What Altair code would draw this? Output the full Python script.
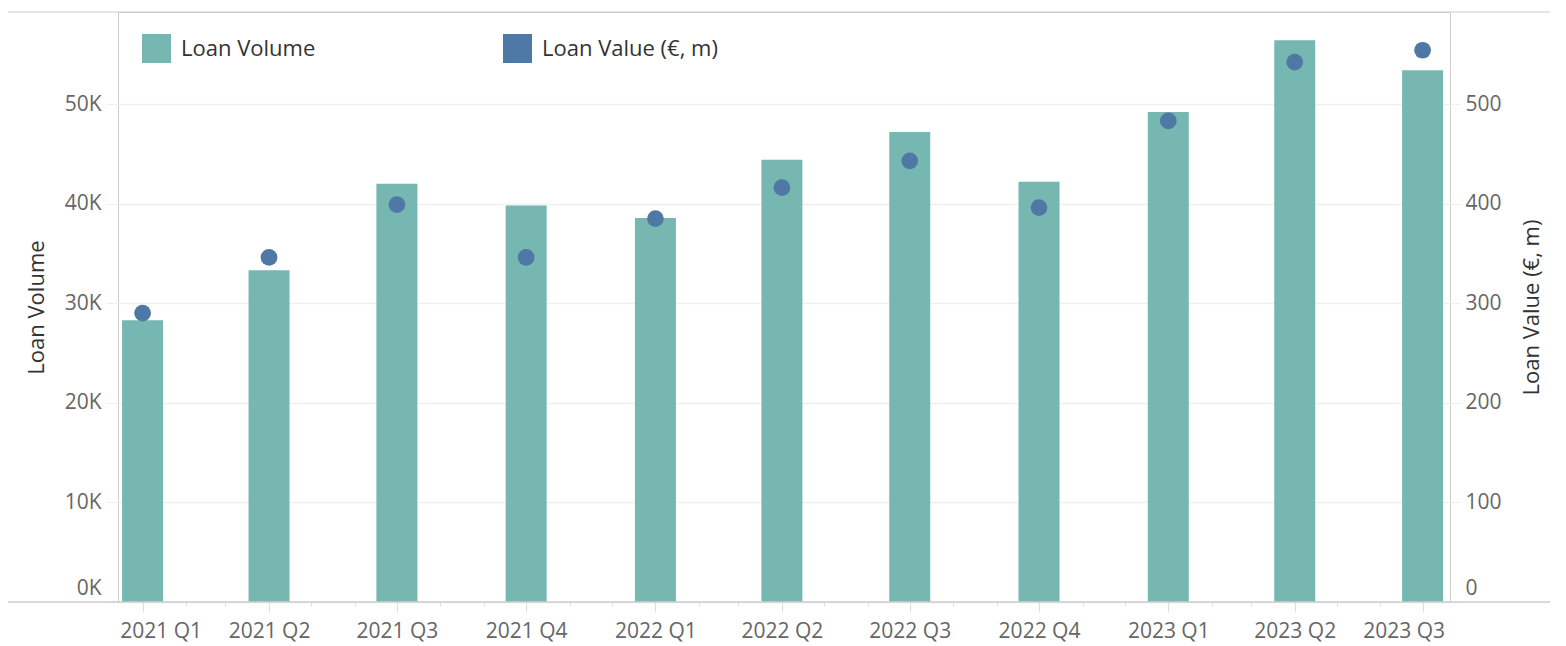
import altair as alt
import pandas as pd

quarter_dates = [
    "2021-01-01T00:00:00", "2021-04-01T00:00:00", "2021-07-01T00:00:00", "2021-10-01T00:00:00",
    "2022-01-01T00:00:00", "2022-04-01T00:00:00", "2022-07-01T00:00:00", "2022-10-01T00:00:00",
    "2023-01-01T00:00:00", "2023-04-01T00:00:00", "2023-07-01T00:00:00",
]
loan_volume = [28300, 33300, 42000, 39800, 38550, 44400, 47200, 42200, 49200, 56400, 53400]
loan_value = [290, 346, 399, 346, 385, 416, 443, 396, 483, 542, 554]

series_names = ["Loan Volume", "Loan Value (€, m)"]
series_colors = ["#76b7b2", "#4e79a7"]
left_ticks = [0, 10000, 20000, 30000, 40000, 50000]
right_ticks = [0, 100, 200, 300, 400, 500]

df = pd.DataFrame({"date": quarter_dates, "volume": loan_volume, "value": loan_value})

FONT = "Open Sans"
W, H = 1332, 590

x_enc = alt.X(
    "date:T",
    scale=alt.Scale(
        domain=[
            alt.DateTime(year=2020, month=12, date=14, hours=12),
            alt.DateTime(year=2023, month=7, date=20, hours=12),
        ],
        nice=False,
        padding=0,
    ),
    axis=alt.Axis(
        title=None,
        tickCount={"interval": "month", "step": 1},
        labelExpr="month(datum.value) % 3 == 0 ? year(datum.value) + ' Q' + quarter(datum.value) : ''",
        grid=False,
        domain=False,
        tickColor="#dddddd",
        tickWidth=1,
        tickSize={"condition": {"test": "month(datum.value) % 3 == 0", "value": 10}, "value": 4},
        labelOffset={
            "condition": [
                {"test": "year(datum.value) == 2021 && month(datum.value) == 0", "value": 18},
                {"test": "year(datum.value) == 2023 && month(datum.value) == 6", "value": -19},
            ],
            "value": 0,
        },
        labelFontSize=21,
        labelColor="#666666",
        labelPadding=8,
        labelOverlap=False,
        labelFlush=False,
    ),
)

color_scale = alt.Scale(domain=series_names, range=series_colors)

bars = alt.Chart(df).transform_calculate(series="'Loan Volume'").mark_bar(size=41).encode(
    x=x_enc,
    y=alt.Y(
        "volume:Q",
        scale=alt.Scale(domain=[0, 59240], nice=False),
        axis=alt.Axis(
            values=left_ticks,
            labelExpr="format(datum.value / 1000, 'd') + 'K'",
            title="Loan Volume",
            titleFontSize=22,
            titleColor="#333333",
            titleFontWeight="normal",
            titlePadding=16,
            labelFontSize=21,
            labelColor="#666666",
            labelPadding=5,
            tickSize=12,
            tickColor="#eeeeee",
            grid=True,
            gridColor="#efefef",
            gridWidth=1.5,
            domain=False,
            labelFlush=True,
            labelFlushOffset=-4,
        ),
    ),
    color=alt.Color(
        "series:N",
        scale=color_scale,
        legend=alt.Legend(
            title=None,
            orient="none",
            legendX=24,
            legendY=22,
            direction="horizontal",
            symbolType="square",
            symbolSize=841,
            symbolStrokeWidth=0,
            labelFontSize=22,
            labelColor="#333333",
            labelFont=FONT,
            labelOffset=10,
            labelLimit=400,
            columnPadding=187,
            padding=0,
        ),
    ),
)

dots = alt.Chart(df).transform_calculate(series="'Loan Value (€, m)'").mark_circle(size=280, opacity=1).encode(
    x=x_enc,
    y=alt.Y(
        "value:Q",
        scale=alt.Scale(domain=[0, 592.4], nice=False),
        axis=alt.Axis(
            orient="right",
            values=right_ticks,
            title="Loan Value (€, m)",
            titleAngle=270,
            titleBaseline="top",
            titleFontSize=22,
            titleColor="#333333",
            titleFontWeight="normal",
            titlePadding=20,
            labelFontSize=21,
            labelColor="#666666",
            labelPadding=5,
            tickSize=10,
            tickColor="#eeeeee",
            grid=False,
            domain=False,
            labelFlush=True,
            labelFlushOffset=-4,
        ),
    ),
    color=alt.Color("series:N", scale=color_scale),
)

frame_data = alt.Data(values=[{"k": 1}])
top_line = alt.Chart(frame_data).mark_rule(color="#cccccc", strokeWidth=1).encode(
    x=alt.value(-110), x2=alt.value(W + 100), y=alt.value(0)
)
bottom_line = alt.Chart(frame_data).mark_rule(color="#cccccc", strokeWidth=1.5).encode(
    x=alt.value(-110), x2=alt.value(W + 100), y=alt.value(H)
)

chart = (
    alt.layer(bars, dots, top_line, bottom_line)
    .resolve_scale(y="independent")
    .properties(
        width=W,
        height=H,
        padding={"left": 110, "top": 4, "right": 100, "bottom": 40},
        autosize=alt.AutoSizeParams(type="none"),
    )
    .configure(font=FONT)
    .configure_view(stroke="#cccccc", strokeWidth=1)
    .configure_axis(labelFont=FONT, titleFont=FONT)
)

chart.save("out.html", embed_options={"renderer": "svg", "actions": False})
